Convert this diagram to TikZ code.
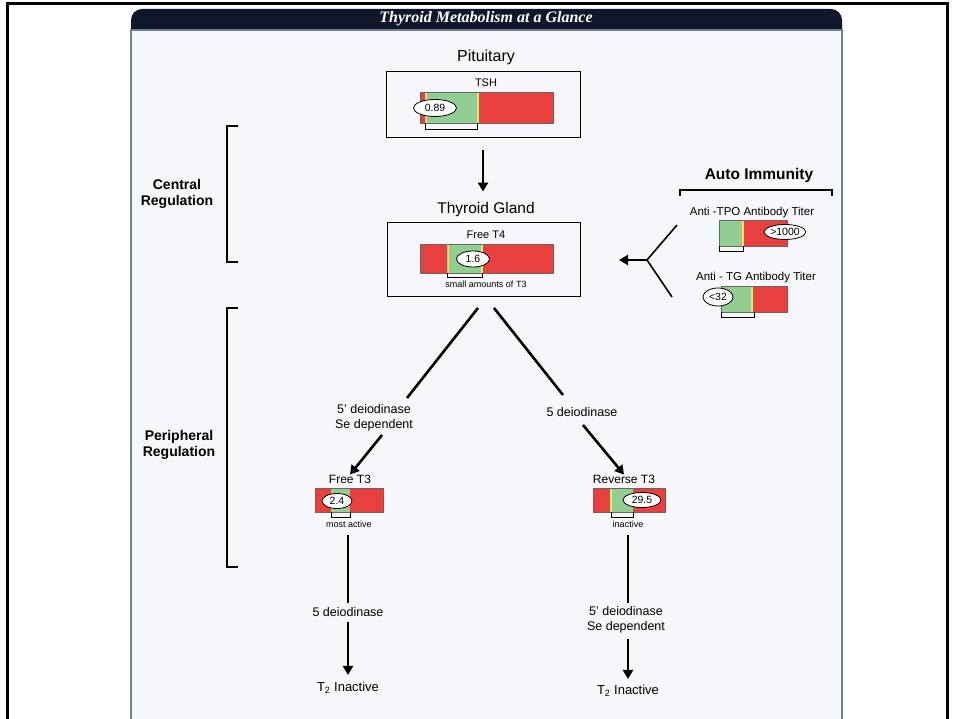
\documentclass[tikz,border=0pt]{standalone}
\usepackage{fontspec}
\setmainfont{Liberation Sans}
\newfontfamily\headserif{Liberation Serif}
\usetikzlibrary{arrows.meta,shapes.geometric,positioning}
\definecolor{barred}{RGB}{232,64,62}
\definecolor{bargreen}{RGB}{146,206,146}
\definecolor{baryellow}{RGB}{240,226,110}
\definecolor{headnavy}{RGB}{14,24,42}
\definecolor{panelbg}{RGB}{245,247,251}
\definecolor{panelline}{RGB}{110,128,150}
\newcommand{\fsz}[2]{\fontsize{#1}{#2}\selectfont}

\begin{document}
\begin{tikzpicture}[x=1pt,y=-1pt,
  flow/.style={line width=2.6pt,-{Triangle[length=9pt,width=10pt]}},
  link/.style={line width=2.6pt},
  lbl/.style={inner sep=0pt,align=center},
  valbox/.style={draw,ellipse,fill=white,line width=0.8pt,inner sep=0pt,font=\fsz{10.5}{12}},
  barframe/.style={draw=black!60,line width=0.5pt,inner sep=0pt},
  hold/.style={line width=0.9pt},
  organbox/.style={draw,line width=0.8pt,inner sep=0pt}]
\useasboundingbox (0,0) rectangle (954,719);
\clip (0,0) rectangle (954,719);
\fill[white] (0,0) rectangle (954,719);
\draw[line width=3pt] (7,4) rectangle (947,740);

% panel and title bar
\fill[headnavy,rounded corners=11pt] (131,9) rectangle (842,45);
\filldraw[fill=panelbg,draw=panelline,line width=1.6pt] (131,30) rectangle (842,740);
\node[text=white,font=\headserif\bfseries\itshape\fsz{16}{18}] (title) at (486,19) {Thyroid Metabolism at a Glance};

% pituitary
\node[lbl,font=\fsz{16}{18}] (pit) at (486,57) {Pituitary};
\node[organbox,minimum width=194pt,minimum height=66pt] (pitbox) at (483,104) {};
\node[lbl,font=\fsz{11}{13}] (tsh) at (486,83) {TSH};
\fill[barred] (420,92) rectangle (553,123);
\fill[bargreen] (427,92) rectangle (477,123);
\fill[baryellow] (425,92) rectangle (427,123);
\fill[baryellow] (477,92) rectangle (479,123);
\node[barframe,minimum width=133pt,minimum height=31pt] (tshbar) at (486.5,107.5) {};
\draw[hold] (425,123) -- (425,129) -- (477,129) -- (477,123);
\node[valbox,minimum width=43pt,minimum height=17pt] (tshval) at (435,108) {0.89};

% thyroid gland
\node[lbl,font=\fsz{15.5}{17}] (thy) at (486,209) {Thyroid Gland};
\node[organbox,minimum width=193pt,minimum height=74pt] (thybox) at (483.5,259) {};
\node[lbl,font=\fsz{11}{13}] (ft4) at (486,235) {Free T4};
\fill[barred] (420,244) rectangle (553,273);
\fill[bargreen] (449,244) rectangle (481,273);
\fill[baryellow] (447,244) rectangle (449,273);
\fill[baryellow] (481,244) rectangle (483,273);
\node[barframe,minimum width=133pt,minimum height=29pt] (ft4bar) at (486.5,258.5) {};
\draw[hold] (447,273) -- (447,277) -- (482,277) -- (482,273);
\node[valbox,minimum width=33pt,minimum height=16pt] (ft4val) at (473,259) {1.6};
\node[lbl,font=\fsz{9}{10}] (smallt3) at (486,284) {small amounts of T3};

\draw[flow,shorten <=13pt,shorten >=10pt] (pitbox.south) -- (thy.north -| pitbox.south);

% auto immunity
\node[lbl,font=\bfseries\fsz{15.5}{17}] (auto) at (759,175) {Auto Immunity};
\draw[line width=1.3pt] (680,196) -- (680,190) -- (832,190) -- (832,196);
\node[lbl,font=\fsz{11.5}{13}] (tpo) at (752,213) {Anti -TPO Antibody Titer};
\fill[barred] (719,220) rectangle (787,246);
\fill[bargreen] (719,220) rectangle (742,246);
\fill[baryellow] (742,220) rectangle (743.5,246);
\node[barframe,minimum width=68pt,minimum height=26pt] (tpobar) at (753,233) {};
\draw[hold] (719,246) -- (719,251) -- (743,251) -- (743,246);
\node[valbox,minimum width=36pt,minimum height=15pt] (tpoval) at (785,232) {>1000};
\node[lbl,font=\fsz{11.5}{13}] (tg) at (756,278) {Anti - TG Antibody Titer};
\fill[barred] (721,286) rectangle (787,312);
\fill[bargreen] (721,286) rectangle (751,312);
\fill[baryellow] (751,286) rectangle (753,312);
\node[barframe,minimum width=66pt,minimum height=26pt] (tgbar) at (754,299) {};
\draw[hold] (721,312) -- (721,317) -- (754,317) -- (754,312);
\node[valbox,minimum width=30pt,minimum height=18pt] (tgval) at (718,297) {<32};

\coordinate (fork) at (647,260);
\coordinate (forkup) at (677,225);
\coordinate (forkdown) at (672,297);
\coordinate (forkend) at (619,260);
\draw[line width=1.6pt] (forkup) -- (fork) -- (forkdown);
\draw[flow,line width=2.4pt] (fork) -- (forkend);

% regulation brackets
\draw[line width=1.6pt] (238,126) -- (227,126) -- (227,262) -- (238,262);
\draw[line width=1.6pt] (238,308) -- (227,308) -- (227,567) -- (238,567);
\node[lbl,font=\bfseries\fsz{14}{15.5}] (central) at (177,194) {Central\\Regulation};
\node[lbl,font=\bfseries\fsz{14}{15.5}] (periph) at (179,445) {Peripheral\\Regulation};

% peripheral conversion
\coordinate (splitL) at (478,308);
\coordinate (splitR) at (494,308);
\node[lbl,font=\fsz{12.5}{14.5}] (deioL) at (374,418) {5' deiodinase\\Se dependent};
\node[lbl,font=\fsz{12.5}{14.5}] (deioR) at (582,412) {5 deiodinase};
\coordinate (breakL) at (407,398);
\coordinate (resumeL) at (382,435);
\coordinate (breakR) at (563,395);
\coordinate (resumeR) at (583,425);
\node[lbl,font=\fsz{12}{14}] (ft3) at (350,479) {Free T3};
\node[lbl,font=\fsz{12}{14}] (rt3) at (624,479) {Reverse T3};
\draw[link] (splitL) -- (breakL);
\draw[flow] (resumeL) -- (ft3.north);
\draw[link] (splitR) -- (breakR);
\draw[flow] (resumeR) -- (rt3.north);

% free T3 bar
\fill[barred] (315,488) rectangle (383,512);
\fill[bargreen] (331,488) rectangle (350,512);
\node[barframe,minimum width=68pt,minimum height=24pt] (ft3bar) at (349,500) {};
\draw[hold] (331,512) -- (331,517) -- (350,517) -- (350,512);
\node[valbox,minimum width=30pt,minimum height=15pt] (ft3val) at (337,501) {2.4};
\node[lbl,font=\fsz{9}{10}] (active) at (349,524) {most active};

% reverse T3 bar
\fill[barred] (593,488) rectangle (665,512);
\fill[bargreen] (612,488) rectangle (633,512);
\fill[baryellow] (610,488) rectangle (612,512);
\node[barframe,minimum width=72pt,minimum height=24pt] (rt3bar) at (629,500) {};
\draw[hold] (611,512) -- (611,517) -- (633,517) -- (633,512);
\node[valbox,minimum width=38pt,minimum height=15pt] (rt3val) at (642,500) {29.5};
\node[lbl,font=\fsz{9}{10}] (inact) at (628,524) {inactive};

% further deiodination
\node[lbl,font=\fsz{12.5}{14.5}] (deioLL) at (348,612) {5 deiodinase};
\node[lbl,font=\fsz{13}{15}] (t2L) at (348,688) {T\textsubscript{2} Inactive};
\node[lbl,font=\fsz{12.5}{14.5}] (deioRR) at (626,620) {5' deiodinase\\Se dependent};
\node[lbl,font=\fsz{13}{15}] (t2R) at (628,691) {T\textsubscript{2} Inactive};
\draw[link,shorten <=7pt,shorten >=4pt] (active.south -| deioLL) -- (deioLL.north);
\draw[flow,shorten <=5pt,shorten >=7pt] (deioLL.south) -- (t2L.north);
\draw[link,shorten <=7pt,shorten >=4pt] (inact.south -| t2R) -- (deioRR.north -| t2R);
\draw[flow,shorten <=6pt,shorten >=6pt] (deioRR.south -| t2R) -- (t2R.north);
\end{tikzpicture}
\end{document}
